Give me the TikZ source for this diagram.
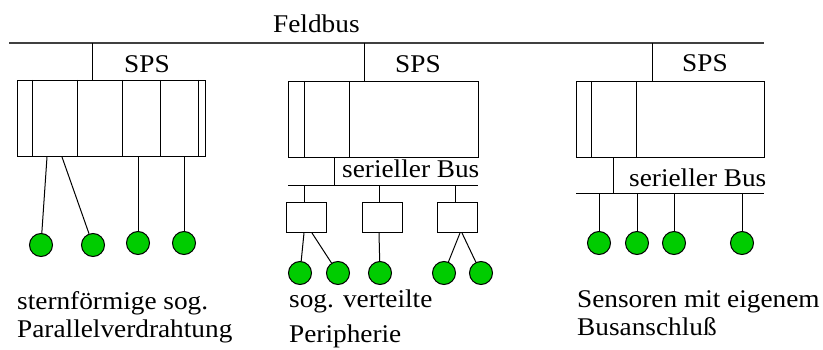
\documentclass[tikz,border=0pt]{standalone}
\usepackage{fontspec}
\setmainfont[FakeStretch=1.07]{Liberation Serif}
\begin{document}
\begin{tikzpicture}[x=1pt,y=-1pt,
  wire/.style={line width=1pt},
  bus/.style={line width=1.3pt, black!75},
  lbl/.style={anchor=base west, inner sep=0pt, font=\fontsize{25.5}{30}\selectfont},
  plcbox/.style={draw, line width=1pt, anchor=north west, inner sep=0pt, minimum height=76pt},
  iobox/.style={draw, line width=1pt, anchor=north west, inner sep=0pt, minimum width=40pt, minimum height=30pt},
  sensor/.style={circle, draw, line width=1pt, fill=green!80!black, inner sep=0pt, minimum size=23pt}]
\useasboundingbox (0,0) rectangle (823,350);

% Feldbus
\coordinate (fbL) at (9,43);
\coordinate (fbR) at (764,43);
\draw[bus] (fbL) -- (fbR);
\node[lbl] (fbtxt) at (273,33) {Feldbus};

% ---- left: star-shaped parallel wiring ----
\node[plcbox, minimum width=188pt] (plcA) at (17,80) {};
\node[lbl] (spsA) at (124,73) {SPS};
\coordinate (tapA) at (92,43);
\draw[wire] (tapA) -- (tapA |- plcA.north);
\foreach \xx in {32,77,122,160,198}
  \draw[wire] (\xx,0 |- plcA.north) -- (\xx,0 |- plcA.south);
\node[sensor] (a1) at (41,245) {};
\node[sensor] (a2) at (93,245) {};
\node[sensor] (a3) at (138,243) {};
\node[sensor] (a4) at (184,243) {};
\draw[wire] (47,0 |- plcA.south) -- (a1);
\draw[wire] (62,0 |- plcA.south) -- (a2);
\draw[wire] (a3 |- plcA.south) -- (a3);
\draw[wire] (a4 |- plcA.south) -- (a4);
\node[lbl] (txtA1) at (17,309) {sternförmige sog.};
\node[lbl] (txtA2) at (17,337) {Parallelverdrahtung};

% ---- middle: distributed periphery ----
\node[plcbox, minimum width=190pt] (plcB) at (288,81) {};
\node[lbl] (spsB) at (395,73) {SPS};
\coordinate (tapB) at (364,43);
\draw[wire] (tapB) -- (tapB |- plcB.north);
\foreach \xx in {304,349}
  \draw[wire] (\xx,0 |- plcB.north) -- (\xx,0 |- plcB.south);
\coordinate (sbBL) at (288,186);
\coordinate (sbBR) at (478,186);
\draw[wire] (sbBL) -- (sbBR);
\draw[wire] (334,0 |- plcB.south) -- (334,0 |- sbBL);
\node[lbl] (sbBtxt) at (342,178) {serieller Bus};
\node[iobox] (io1) at (286,202) {};
\node[iobox] (io2) at (362,202) {};
\node[iobox] (io3) at (437,202) {};
\foreach \xx/\bx in {304/io1,379/io2,455/io3}
  \draw[wire] (\xx,0 |- sbBL) -- (\xx,0 |- \bx.north);
\node[sensor] (b1) at (300,273) {};
\node[sensor] (b2) at (338,273) {};
\node[sensor] (b3) at (380,273) {};
\node[sensor] (b4) at (444,273) {};
\node[sensor] (b5) at (481,273) {};
\draw[wire] (304,0 |- io1.south) -- (b1);
\draw[wire] (312,0 |- io1.south) -- (b2);
\draw[wire] (379,0 |- io2.south) -- (b3);
\draw[wire] (460,0 |- io3.south) -- (b4);
\draw[wire] (462,0 |- io3.south) -- (b5);
\node[lbl] (txtB1) at (289,307) {sog. verteilte};
\node[lbl] (txtB2) at (289,342) {Peripherie};

% ---- right: sensors with own bus connection ----
\node[plcbox, minimum width=188pt] (plcC) at (576,81) {};
\node[lbl] (spsC) at (682,72) {SPS};
\coordinate (tapC) at (652,43);
\draw[wire] (tapC) -- (tapC |- plcC.north);
\foreach \xx in {591,636}
  \draw[wire] (\xx,0 |- plcC.north) -- (\xx,0 |- plcC.south);
\coordinate (sbCL) at (576,194);
\coordinate (sbCR) at (764,194);
\draw[wire] (sbCL) -- (sbCR);
\draw[wire] (613,0 |- plcC.south) -- (613,0 |- sbCL);
\node[lbl] (sbCtxt) at (629,187) {serieller Bus};
\node[sensor] (c1) at (599,243) {};
\node[sensor] (c2) at (637,243) {};
\node[sensor] (c3) at (674,243) {};
\node[sensor] (c4) at (742,243) {};
\foreach \cn in {c1,c2,c3,c4}
  \draw[wire] (\cn |- sbCL) -- (\cn);
\node[lbl] (txtC1) at (577,308) {Sensoren mit eigenem};
\node[lbl] (txtC2) at (577,335) {Busanschluß};
\end{tikzpicture}
\end{document}
